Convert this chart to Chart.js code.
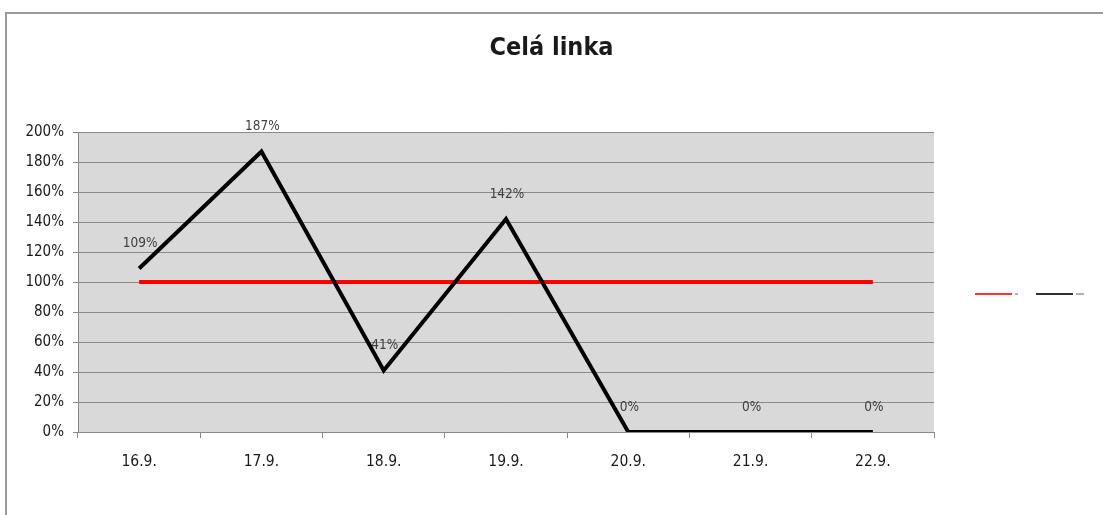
<!DOCTYPE html>
<html>
<head>
<meta charset="utf-8">
<script src="https://cdn.jsdelivr.net/npm/chart.js@4.4.1/dist/chart.umd.min.js"></script>
<style>
  html, body { margin: 0; padding: 0; background: #fff; }
  #wrap { position: relative; width: 1103px; height: 515px; }
  #frame { position: absolute; left: 5px; top: 12px; right: 0; bottom: 0;
           border-top: 2px solid #9a9a9a; border-left: 2px solid #9a9a9a; }
  canvas { position: absolute; left: 0; top: 0; }
</style>
</head>
<body>
<div id="wrap">
  <div id="frame"></div>
  <canvas id="c" width="1103" height="515"></canvas>
</div>
<script>
// Days of the week shown on the horizontal axis
const days = ['16.9.', '17.9.', '18.9.', '19.9.', '20.9.', '21.9.', '22.9.'];
// Target level (percent)
const target = [100, 100, 100, 100, 100, 100, 100];
// Actual fulfilment of the whole line (percent)
const actual = [109, 187, 41, 142, 0, 0, 0];
// Vertical axis range and step
const yMin = 0, yMax = 200, yStep = 20;

const FONT = "'DejaVu Sans Condensed', 'Liberation Sans Narrow', 'Open Sans', sans-serif";

// Grey plot-area background
const plotBackground = {
  id: 'plotBackground',
  beforeDraw(chart) {
    const { ctx, chartArea: a } = chart;
    ctx.save();
    ctx.fillStyle = '#d9d9d9';
    ctx.fillRect(a.left, a.top, a.right - a.left, a.bottom - a.top);
    ctx.restore();
  }
};

// Value labels above the "actual" series points
const valueLabels = {
  id: 'valueLabels',
  afterDatasetsDraw(chart) {
    const { ctx } = chart;
    const idx = chart.data.datasets.findIndex(d => d.showValues);
    const meta = chart.getDatasetMeta(idx);
    const data = chart.data.datasets[idx].data;
    ctx.save();
    ctx.font = '13.5px ' + FONT;
    ctx.fillStyle = '#404040';
    ctx.textAlign = 'center';
    ctx.textBaseline = 'middle';
    meta.data.forEach((pt, i) => {
      ctx.fillText(data[i] + '%', pt.x + 1, pt.y - 25);
    });
    ctx.restore();
  }
};

// Compact horizontal legend drawn to the right of the plot
const sideLegend = {
  id: 'sideLegend',
  afterDraw(chart) {
    const { ctx } = chart;
    const y = 294;
    let x = 975;
    ctx.save();
    chart.data.datasets.forEach(ds => {
      ctx.strokeStyle = ds.legendColor;
      ctx.lineWidth = 2;
      ctx.beginPath();
      ctx.moveTo(x, y);
      ctx.lineTo(x + 37, y);
      ctx.stroke();
      ctx.fillStyle = '#b0b0b8';
      ctx.fillRect(x + 40, y - 1, ds.legendStub, 2);
      x += 61;
    });
    ctx.restore();
  }
};

new Chart(document.getElementById('c'), {
  type: 'line',
  data: {
    labels: days,
    datasets: [
      {
        label: 'Cíl',
        data: target,
        borderColor: '#ff0000',
        legendColor: '#ff3030',
        legendStub: 3,
        borderWidth: 4,
        pointRadius: 0,
        tension: 0,
        order: 1
      },
      {
        label: 'Skutečnost',
        data: actual,
        borderColor: '#000000',
        legendColor: '#303030',
        legendStub: 8,
        borderWidth: 4,
        pointRadius: 0,
        tension: 0,
        borderJoinStyle: 'miter',
        showValues: true,
        order: 0
      }
    ]
  },
  options: {
    responsive: false,
    animation: false,
    layout: { padding: 0 },
    plugins: {
      legend: { display: false },
      tooltip: { enabled: false },
      title: {
        display: true,
        text: 'Celá linka',
        color: '#1a1a1a',
        font: { family: FONT, size: 25, weight: 'bold', lineHeight: 1.2 },
        padding: { top: 33, bottom: 69 }
      }
    },
    scales: {
      x: {
        offset: true,
        grid: {
          offset: true,
          drawOnChartArea: false,
          drawTicks: true,
          tickLength: 6,
          color: '#8a8a8a',
          lineWidth: 1
        },
        border: { color: '#8a8a8a', width: 1 },
        ticks: {
          color: '#1a1a1a',
          padding: 15,
          font: { family: FONT, size: 15.5 },
          maxRotation: 0
        },
        afterFit(scale) { scale.height = 83; }
      },
      y: {
        min: yMin,
        max: yMax,
        grid: {
          color: '#8a8a8a',
          lineWidth: 1,
          tickLength: 5,
          drawTicks: true
        },
        border: { color: '#8a8a8a', width: 1 },
        ticks: {
          stepSize: yStep,
          color: '#1a1a1a',
          padding: 9,
          font: { family: FONT, size: 15 },
          callback: v => v + '%'
        },
        afterFit(scale) { scale.width = 78; }
      },
      // empty right-hand band that holds the legend
      legendBand: {
        position: 'right',
        min: yMin,
        max: yMax,
        grid: { display: false },
        border: { display: false },
        ticks: { display: false },
        afterFit(scale) { scale.width = 169; }
      }
    }
  },
  plugins: [plotBackground, valueLabels, sideLegend]
});
</script>
</body>
</html>
